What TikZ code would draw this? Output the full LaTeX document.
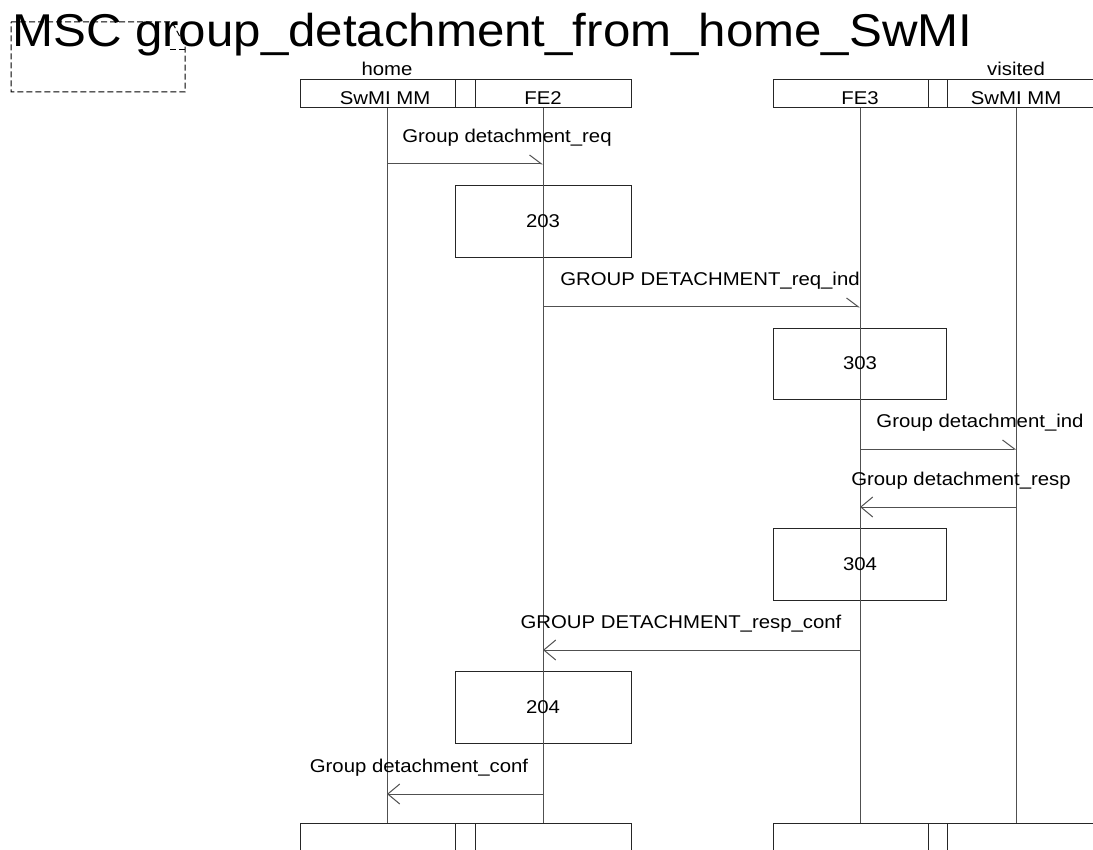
\documentclass[tikz,border=0pt]{standalone}
\usepackage{fontspec}
\setmainfont{Liberation Sans}
\newfontfamily\lblfont{Liberation Sans}[FakeStretch=1.1]
\newfontfamily\ttlfont{Liberation Sans}[FakeStretch=1.07]
\usetikzlibrary{arrows.meta}
\definecolor{ln}{RGB}{80,80,80}
\tikzset{
  lbl/.style={font=\lblfont\fontsize{18.5}{22}\selectfont, inner sep=0pt, anchor=base},
  ttl/.style={font=\ttlfont\fontsize{46}{52}\selectfont, inner sep=0pt, anchor=base west},
  life/.style={draw=ln, line width=1pt},
  hdr/.style={draw=black!85, line width=1pt},
  actbox/.style={draw=black!85, line width=1pt},
  msgr/.style={draw=ln, line width=1pt, -{Straight Barb[left,length=12pt,width=18pt]}},
  msgl/.style={draw=ln, line width=1pt, -{Straight Barb[length=12pt,width=20pt]}},
  cmt/.style={draw=black, line width=1pt, dash pattern=on 6pt off 3pt}
}
\begin{document}
\begin{tikzpicture}[x=1pt,y=-1pt]
\useasboundingbox (0,0) rectangle (1093,850);
% comment symbol and title
\node[ttl] (title) at (12,46.5) {MSC group\_detachment\_from\_home\_SwMI};
\draw[cmt] (11,22) -- (172,22) -- (185,46) -- (185,92) -- (11,92) -- cycle;
\draw[cmt] (170,50) -- (185,50);
% headers
\draw[hdr] (300,80) rectangle (631,108);
\draw[hdr] (455,80) rectangle (475,108);
\draw[hdr] (773,80) rectangle (1100,108);
\draw[hdr] (928,80) rectangle (947,108);
\node[lbl] (home) at (387,76) {home};
\node[lbl] (visited) at (1016,76) {visited};
\node[lbl] (h1) at (385,105) {SwMI MM};
\node[lbl] (h2) at (543,105) {FE2};
\node[lbl] (h3) at (860,105) {FE3};
\node[lbl] (h4) at (1016,105) {SwMI MM};
% bottom headers
\draw[hdr] (300,823) rectangle (631,860);
\draw[hdr] (455,823) rectangle (475,860);
\draw[hdr] (773,823) rectangle (1100,860);
\draw[hdr] (928,823) rectangle (947,860);
% lifeline coordinates
\coordinate (A0) at (387,108); \coordinate (A1) at (387,823);
\coordinate (B0) at (543,108); \coordinate (B1) at (543,823);
\coordinate (C0) at (860,108); \coordinate (C1) at (860,823);
\coordinate (D0) at (1016,108); \coordinate (D1) at (1016,823);
% action boxes
\draw[actbox] (455,186) rectangle (631,258);
\draw[actbox] (773,329) rectangle (946,400);
\draw[actbox] (773,528) rectangle (946,600);
\draw[actbox] (455,671) rectangle (631,743);
% lifelines
\draw[life] (A0) -- (A1);
\draw[life] (B0) -- (B1);
\draw[life] (C0) -- (C1);
\draw[life] (D0) -- (D1);
\node[lbl] (t203) at (543,227.5) {203};
\node[lbl] (t303) at (860,370) {303};
\node[lbl] (t304) at (860,570) {304};
\node[lbl] (t204) at (543,713) {204};
% messages
\coordinate (m1a) at (387,164); \coordinate (m1b) at (543,164);
\coordinate (m2a) at (543,307); \coordinate (m2b) at (860,307);
\coordinate (m3a) at (860,449); \coordinate (m3b) at (1016,449);
\coordinate (m4a) at (1016,507); \coordinate (m4b) at (860,507);
\coordinate (m5a) at (860,650); \coordinate (m5b) at (543,650);
\coordinate (m6a) at (543,794); \coordinate (m6b) at (387,794);
\draw[msgr] (m1a) -- (m1b);
\draw[msgr] (m2a) -- (m2b);
\draw[msgr] (m3a) -- (m3b);
\draw[msgl] (m4a) -- (m4b);
\draw[msgl] (m5a) -- (m5b);
\draw[msgl] (m6a) -- (m6b);
\node[lbl] (l1) at (507,143) {Group detachment\_req};
\node[lbl] (l2) at (710,286) {GROUP DETACHMENT\_req\_ind};
\node[lbl] (l3) at (980,428) {Group detachment\_ind};
\node[lbl] (l4) at (961,485) {Group detachment\_resp};
\node[lbl] (l5) at (681,628) {GROUP DETACHMENT\_resp\_conf};
\node[lbl] (l6) at (419,772) {Group detachment\_conf};
\end{tikzpicture}
\end{document}
